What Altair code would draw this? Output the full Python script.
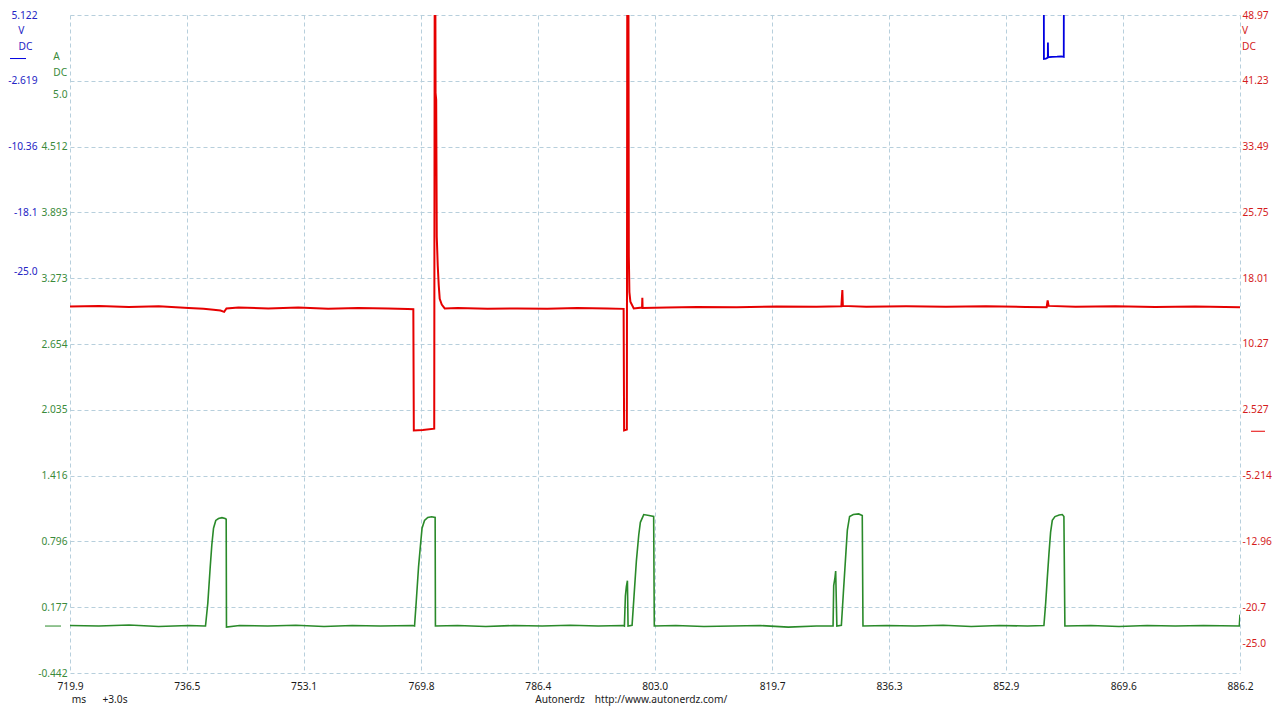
import altair as alt
import pandas as pd

FONT = "Noto Sans"
FS = 10.2
GRID = "#b7cfdc"
GREEN = "#2a8a2a"
RED = "#e60000"
BLUE = "#0000e0"
GREEN_LBL = "#3a8a3a"
RED_LBL = "#d41c1c"
BLUE_LBL = "#2424c4"

# ---------------- data ----------------
x_tick_values = [719.9, 736.5, 753.1, 769.8, 786.4, 803.0, 819.7, 836.3, 852.9, 869.6, 886.2]

green_ticks = [5.0, 4.512, 3.893, 3.273, 2.654, 2.035, 1.416, 0.796, 0.177, -0.442]
green_tick_labels = ["5.0", "4.512", "3.893", "3.273", "2.654", "2.035", "1.416", "0.796", "0.177", "-0.442"]
red_ticks = [48.97, 41.23, 33.49, 25.75, 18.01, 10.27, 2.527, -5.214, -12.96, -20.7, -25.0]
red_tick_labels = ["48.97", "41.23", "33.49", "25.75", "18.01", "10.27", "2.527", "-5.214", "-12.96", "-20.7", "-25.0"]
blue_ticks = [5.122, -2.619, -10.36, -18.1, -25.0]
blue_tick_labels = ["5.122", "-2.619", "-10.36", "-18.1", "-25.0"]

green_domain = [-0.442, 5.7505]
red_domain = [-28.44, 48.97]
blue_domain = [-72.288, 5.122]

green_t = [719.90, 724.00, 728.30, 732.50, 736.80, 739.00, 739.16, 739.49, 739.83, 740.06, 740.30, 740.62, 741.01, 741.50, 741.95, 742.10, 742.14,
           744.00, 748.00, 752.00, 756.00, 760.00, 764.00, 768.60, 768.87, 769.10, 769.44, 769.72, 769.94, 770.29, 770.75, 771.30, 771.80, 771.84,
           775.00, 779.00, 783.00, 787.00, 791.00, 795.00, 798.50, 798.70, 798.84, 798.98, 799.13, 799.22, 799.79, 800.03, 800.40, 800.74, 800.97, 801.45, 802.20, 802.86, 802.95,
           806.00, 810.00, 814.00, 818.00, 822.00, 826.00, 828.36, 828.45, 828.62, 828.73, 828.90, 829.54, 829.82, 830.17, 830.39, 830.71, 831.24, 832.00, 832.51, 832.61,
           836.00, 840.00, 844.00, 848.00, 852.00, 856.00, 858.33, 858.58, 858.82, 859.04, 859.28, 859.52, 859.90, 860.50, 860.94, 861.17, 861.31,
           865.00, 869.00, 873.00, 877.00, 881.00, 886.10, 886.20]
green_a = [0.005, 0.0, 0.01, -0.005, 0.005, 0.0, 0.0, 0.217, 0.555, 0.765, 0.921, 0.994, 1.012, 1.02, 1.012, 1.005, -0.01,
           0.005, 0.0, 0.008, -0.005, 0.005, 0.0, 0.005, 0.0, 0.217, 0.555, 0.765, 0.921, 0.994, 1.022, 1.028, 1.022, 0.0,
           0.005, -0.005, 0.005, 0.0, 0.008, 0.0, 0.005, 0.0, 0.281, 0.372, 0.427, 0.0, 0.006, 0.244, 0.610, 0.857, 0.976, 1.049, 1.04, 1.031, 0.0,
           0.005, -0.005, 0.0, 0.005, -0.01, 0.0, 0.0, 0.38, 0.45, 0.518, 0.0, 0.006, 0.308, 0.674, 0.902, 1.031, 1.049, 1.055, 1.040, 0.0,
           0.005, 0.0, 0.008, -0.005, 0.005, 0.0, 0.005, 0.217, 0.463, 0.674, 0.884, 0.994, 1.03, 1.045, 1.049, 1.031, 0.0,
           0.005, -0.005, 0.005, 0.0, 0.005, 0.0, 0.107]

red_t = [719.90, 724.01, 728.26, 732.51, 736.76, 738.88, 740.30, 741.29, 741.81, 742.14, 743.84, 748.09, 752.34, 756.59, 760.84, 765.09, 767.92, 768.70,
         768.77, 770.04, 771.67,
         771.74, 771.82, 771.86, 771.95, 772.03, 772.17, 772.31, 772.45, 772.74, 773.16,
         775.00, 779.25, 783.50, 787.75, 792.00, 796.25, 798.59,
         798.66, 799.05,
         799.11, 799.27, 799.33, 799.41, 799.55, 800.03, 801.21, 801.25, 801.29,
         804.75, 809.00, 814.66, 820.33, 826.00, 829.54, 829.68, 829.75, 833.08, 838.74, 844.41, 850.08, 855.74, 858.72, 858.86, 859.00,
         862.82, 868.49, 874.16, 879.82, 886.20]
red_v = [14.67, 14.75, 14.62, 14.70, 14.50, 14.40, 14.30, 14.20, 14.05, 14.45, 14.55, 14.45, 14.55, 14.42, 14.50, 14.45, 14.38, 14.35,
         0.10, 0.15, 0.30,
         55.0, 55.0, 39.8, 39.0, 22.9, 19.47, 17.18, 15.58, 14.90, 14.45,
         14.50, 14.40, 14.45, 14.40, 14.50, 14.45, 14.40,
         0.10, 0.20,
         55.0, 55.0, 20.61, 16.38, 15.24, 14.44, 14.55, 15.70, 14.50,
         14.55, 14.62, 14.60, 14.68, 14.65, 14.70, 16.61, 14.75, 14.65, 14.70, 14.65, 14.70, 14.62, 14.60, 15.40, 14.75,
         14.65, 14.70, 14.62, 14.68, 14.60]

blue_t = [719.90, 858.31, 858.33, 858.60, 858.88, 858.90, 858.93, 859.50, 860.20, 860.80, 861.15, 861.17, 886.20]
blue_v = [12.0, 12.0, -0.05, 0.0, 0.10, 1.89, 0.15, 0.20, 0.22, 0.25, 0.20, 12.0, 12.0]

grid_steps = list(range(11))

# ---------------- frames ----------------
df_green = pd.DataFrame({"t": green_t, "v": green_a, "i": range(len(green_t))})
df_red = pd.DataFrame({"t": red_t, "v": red_v, "i": range(len(red_t))})
df_blue = pd.DataFrame({"t": blue_t, "v": blue_v, "i": range(len(blue_t))})
df_zero = pd.DataFrame({"v": [0.0]})
df_one = pd.DataFrame({"k": [0]})

PLOT_W = 1170
PLOT_H = 658


def label_expr(values, labels):
    expr = "''"
    for v, l in reversed(list(zip(values, labels))):
        expr = f"abs(datum.value - ({v})) < 1e-6 ? '{l}' : {expr}"
    return expr


def yaxis(orient, values, labels, color, offset=0, pad=3):
    return alt.Axis(orient=orient, values=values, labelExpr=label_expr(values, labels),
                    labelColor=color, labelFont=FONT, labelFontSize=FS, grid=False,
                    ticks=False, tickSize=0, domain=False, title=None, labelPadding=pad,
                    offset=offset, labelFlush=False, labelOverlap=False, labelBound=False)


X_ENC = alt.X("t:Q", scale=alt.Scale(domain=[x_tick_values[0], x_tick_values[-1]], nice=False, zero=False),
              axis=alt.Axis(values=x_tick_values, format=".1f", grid=True, gridColor=GRID, gridDash=[4, 3],
                            gridWidth=1, ticks=False, tickSize=0, domain=False, labelFlush=False,
                            labelOverlap=False, labelPadding=8, labelFont=FONT, labelFontSize=FS,
                            labelColor="#1a1a1a", title=None))

green_scale = alt.Scale(domain=green_domain, nice=False, zero=False)
red_scale = alt.Scale(domain=red_domain, nice=False, zero=False)
blue_scale = alt.Scale(domain=blue_domain, nice=False, zero=False)

grid = alt.Chart(df_one).mark_point(opacity=0).encode(
    x=alt.value(0),
    y=alt.Y("k:Q", scale=alt.Scale(domain=[0, 10], nice=False, zero=False),
            axis=alt.Axis(orient="left", values=grid_steps, grid=True, gridColor=GRID, gridDash=[4, 3],
                          gridWidth=1, labels=False, ticks=False, domain=False, title=None)))

green_line = alt.Chart(df_green).mark_line(color=GREEN, strokeWidth=1.6, clip=True).encode(
    x=X_ENC, y=alt.Y("v:Q", scale=green_scale, axis=yaxis("left", green_ticks, green_tick_labels, GREEN_LBL, 0, 3)),
    order=alt.Order("i:Q"))
red_line = alt.Chart(df_red).mark_line(color=RED, strokeWidth=2, clip=True).encode(
    x=X_ENC, y=alt.Y("v:Q", scale=red_scale, axis=yaxis("right", red_ticks, red_tick_labels, RED_LBL, 0, 2)),
    order=alt.Order("i:Q"))
blue_line = alt.Chart(df_blue).mark_line(color=BLUE, strokeWidth=1.8, clip=True).encode(
    x=X_ENC, y=alt.Y("v:Q", scale=blue_scale, axis=yaxis("left", blue_ticks, blue_tick_labels, BLUE_LBL, 29, 4)),
    order=alt.Order("i:Q"))

green_zero = alt.Chart(df_zero).mark_rule(color=GREEN, strokeWidth=1).encode(
    y=alt.Y("v:Q", scale=green_scale, axis=None), x=alt.value(-25), x2=alt.value(-9))
red_zero = alt.Chart(df_zero).mark_rule(color=RED, strokeWidth=1).encode(
    y=alt.Y("v:Q", scale=red_scale, axis=None), x=alt.value(PLOT_W + 11), x2=alt.value(PLOT_W + 25))
blue_zero = alt.Chart(df_zero).mark_rule(color=BLUE, strokeWidth=1).encode(
    y=alt.Y("v:Q", scale=blue_scale, axis=None), x=alt.value(-60), x2=alt.value(-44))


def note(text, x, y, color, align="center"):
    return alt.Chart(df_one).mark_text(text=text, color=color, font=FONT, fontSize=FS,
                                       align=align, baseline="middle").encode(
        x=alt.value(x), y=alt.value(y))


notes = [
    note("V", -48.7, 15.5, BLUE_LBL),
    note("DC", -44.5, 32.0, BLUE_LBL),
    note("A", -16.7, 42.0, GREEN_LBL, "left"),
    note("DC", -16.7, 57.5, GREEN_LBL, "left"),
    note("V", PLOT_W + 2, 15.5, RED_LBL, "left"),
    note("DC", PLOT_W + 2, 32.0, RED_LBL, "left"),
    note("ms", 9, PLOT_H + 27, "#1a1a1a"),
    note("+3.0s", 45, PLOT_H + 27, "#1a1a1a"),
    note("Autonerdz", 490, PLOT_H + 27, "#1a1a1a"),
    note("http://www.autonerdz.com/", 591, PLOT_H + 27, "#1a1a1a"),
]

chart = alt.layer(grid, green_line, red_line, blue_line, green_zero, red_zero, blue_zero, *notes).resolve_scale(
    y="independent"
).properties(
    width=PLOT_W, height=PLOT_H,
    padding={"left": 62, "top": 7, "right": 32, "bottom": 33},
    autosize=alt.AutoSizeParams(type="none"),
    background="white",
).configure_view(stroke=None)

chart.save("out.html", embed_options={"renderer": "svg", "actions": False})
